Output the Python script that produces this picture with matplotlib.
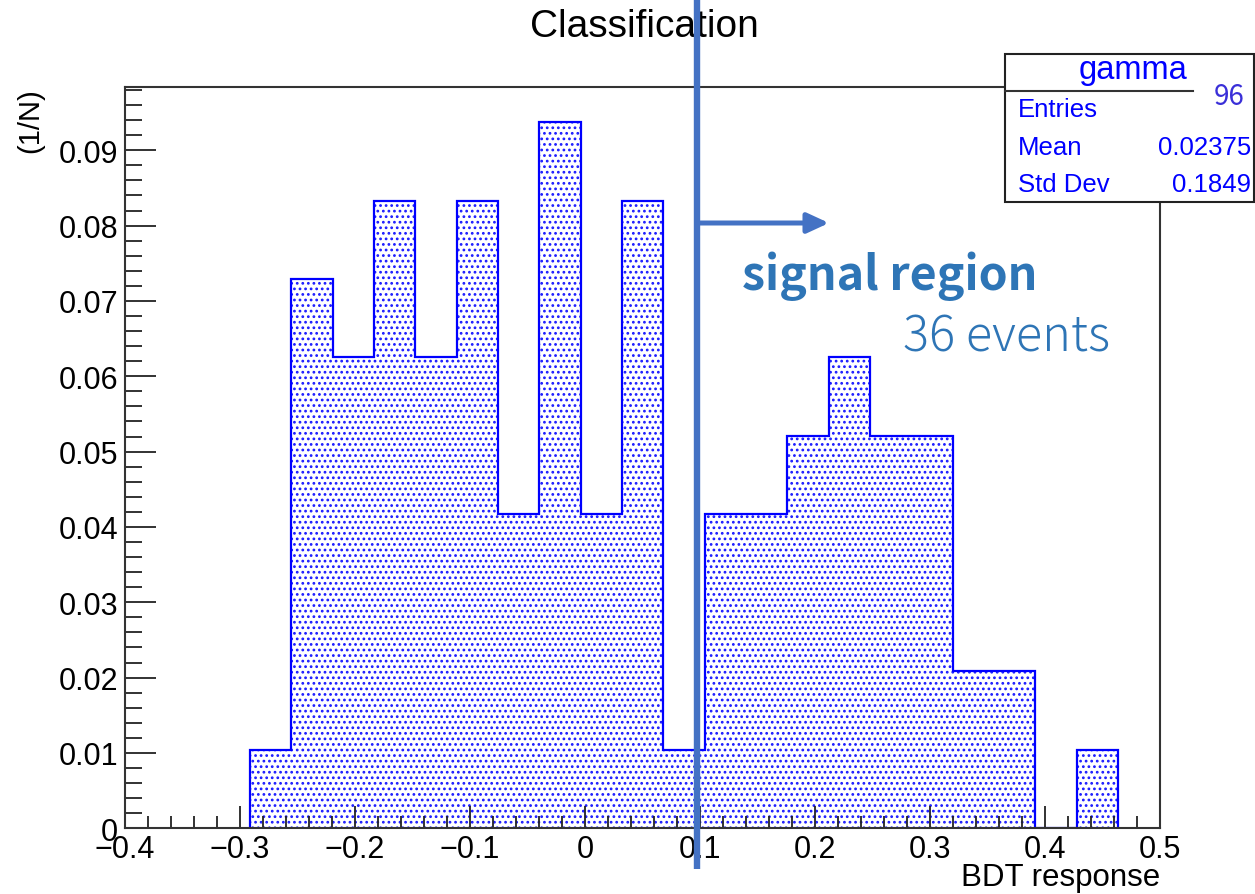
import numpy as np
import matplotlib
matplotlib.use("Agg")
import matplotlib.pyplot as plt
from matplotlib.lines import Line2D
from matplotlib.patches import Rectangle, FancyArrowPatch
from matplotlib.ticker import MultipleLocator

# ---- data ----
counts = [1, 7, 6, 8, 6, 8, 4, 9, 4, 8, 1, 4, 4, 5, 6, 5, 5, 2, 2, 0, 1]
n_entries = 96
bin_lo, bin_hi = -0.2913, 0.4635
x_ticks = [-0.4, -0.3, -0.2, -0.1, 0, 0.1, 0.2, 0.3, 0.4, 0.5]
x_tick_labels = ["\u22120.4", "\u22120.3", "\u22120.2", "\u22120.1", "0", "0.1", "0.2", "0.3", "0.4", "0.5"]
y_ticks = [0, 0.01, 0.02, 0.03, 0.04, 0.05, 0.06, 0.07, 0.08, 0.09]
y_tick_labels = ["0", "0.01", "0.02", "0.03", "0.04", "0.05", "0.06", "0.07", "0.08", "0.09"]
stat_names = ["Entries", "Mean", "Std Dev"]
stat_values = ["96", "0.02375", "0.1849"]
cut_value_text = "36 events"

heights = np.array(counts) / n_entries
edges = np.linspace(bin_lo, bin_hi, len(counts) + 1)

W, H = 1255, 895
plt.rcParams['font.family'] = ['Liberation Sans', 'DejaVu Sans']
plt.rcParams['hatch.linewidth'] = 1.2

fig = plt.figure(figsize=(W / 100, H / 100), dpi=100)
ax = fig.add_axes([125 / W, 1 - 829.3 / H, (1160 - 125) / W, (829.3 - 88) / H])

ax.bar(edges[:-1], heights, width=np.diff(edges), align='edge',
       facecolor='white', edgecolor='#1a1aff', linewidth=0, hatch='...')
ax.stairs(heights, edges, baseline=0, color='#0000ff', lw=1.6)

ax.set_xlim(-0.4, 0.5)
ax.set_ylim(0, 0.0984)
ax.set_xticks(x_ticks)
ax.set_xticklabels(x_tick_labels)
ax.set_yticks(y_ticks)
ax.set_yticklabels(y_tick_labels)
ax.xaxis.set_minor_locator(MultipleLocator(0.02))
ax.yaxis.set_minor_locator(MultipleLocator(0.002))
ax.tick_params(axis='x', which='major', direction='in', length=16, width=1.3,
               labelsize=22, pad=4, color='#222222')
ax.tick_params(axis='x', which='minor', direction='in', length=8.5, width=1.3, color='#222222')
ax.tick_params(axis='y', which='major', direction='in', length=22, width=1.3,
               labelsize=22, pad=5, color='#222222')
ax.tick_params(axis='y', which='minor', direction='in', length=12, width=1.3, color='#222222')
for s in ax.spines.values():
    s.set_color('#333333')
    s.set_linewidth(1.5)

# axis titles & title
fig.text(1160 / W, 1 - 886 / H, "BDT response", ha='right', va='baseline', fontsize=22.5)
fig.text(30 / W, 1 - 88 / H, "(1/N)", ha='center', va='top', rotation=90, fontsize=21)
fig.text(644 / W, 1 - 27 / H, "Classification", ha='center', va='center', fontsize=28)

# stat box
fig.add_artist(Rectangle((1005 / W, 1 - 203 / H), (1254 - 1005) / W, (203 - 55) / H,
                         transform=fig.transFigure, facecolor='white',
                         edgecolor='#222222', lw=1.5, zorder=3))
fig.add_artist(Line2D([1005 / W, 1193 / W], [1 - 92 / H, 1 - 92 / H],
                      transform=fig.transFigure, color='#333333', lw=1.5, zorder=4))
fig.text(1133 / W, 1 - 70 / H, "gamma", ha='center', va='center', fontsize=23.5,
         color='#0000ff', zorder=5)
stat_y = [110, 148, 185]
for name, y in zip(stat_names, stat_y):
    fig.text(1018 / W, 1 - y / H, name, ha='left', va='center', fontsize=18.5,
             color='#0000ff', zorder=5)
fig.text(1245 / W, 1 - 97 / H, stat_values[0], ha='right', va='center', fontsize=20,
         color='#3a2fd8', family=['Noto Sans CJK JP', 'DejaVu Sans'], zorder=5)
for val, y in zip(stat_values[1:], stat_y[1:]):
    fig.text(1251 / W, 1 - y / H, val, ha='right', va='center', fontsize=18.5,
             color='#0000ff', zorder=5)

# signal region annotation
blue = '#4472C4'
fig.add_artist(Line2D([697 / W, 697 / W], [1.0, 1 - 870 / H], transform=fig.transFigure,
                      color=blue, lw=4.6, zorder=6, solid_capstyle='butt'))
fig.add_artist(FancyArrowPatch((697 / W, 1 - 224 / H), (829 / W, 1 - 224 / H),
                               transform=fig.transFigure, color=blue, lw=3.6,
                               arrowstyle='-|>,head_length=1.3,head_width=0.6',
                               mutation_scale=10, shrinkA=0, shrinkB=0, zorder=6))
fig.text(742 / W, 1 - 290 / H, "signal region", ha='left', va='baseline', fontsize=33.5,
         fontweight='bold', color='#2E75B6', family=['Noto Sans CJK JP', 'DejaVu Sans'])
fig.text(903 / W, 1 - 352 / H, cut_value_text, ha='left', va='baseline', fontsize=35,
         fontweight='light', color='#2E75B6', family=['Noto Sans CJK JP', 'DejaVu Sans'])

fig.savefig("out.png", dpi=100)
